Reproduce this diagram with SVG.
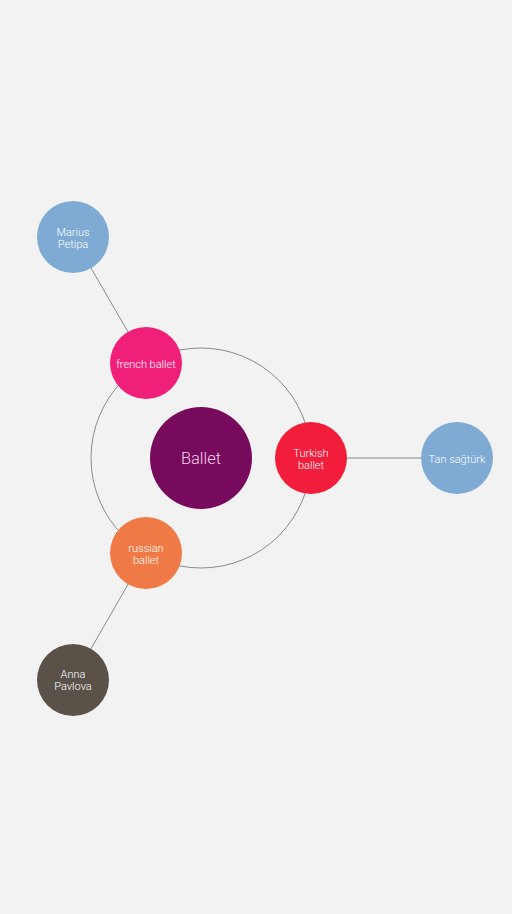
<svg xmlns="http://www.w3.org/2000/svg" width="512" height="914" viewBox="0 0 512 914">
<style>
.t{font-family:Roboto,"Liberation Sans",sans-serif;font-weight:300;fill:#fff;text-anchor:middle;font-size:11px}
.c{stroke:#8a8a8a;stroke-width:1;fill:none}
</style>
<rect width="512" height="914" fill="#f2f2f2"/>
<g id="connectors">
<circle class="c" cx="201" cy="458" r="110"/>
<line class="c" x1="73" y1="237" x2="146" y2="363"/>
<line class="c" x1="311" y1="458" x2="457" y2="458"/>
<line class="c" x1="73" y1="680" x2="146" y2="553"/>
</g>
<g id="ballet"><circle cx="201" cy="458" r="51" fill="#770a5c"/><text class="t" x="201" y="464" style="font-size:16.5px;fill:#f5d0ea">Ballet</text></g>
<g id="french"><circle cx="146" cy="363" r="36" fill="#f01f79"/><text class="t" x="146" y="368">french ballet</text></g>
<g id="turkish"><circle cx="311" cy="458" r="36" fill="#f21c3b"/><text class="t" x="311" y="457">Turkish</text><text class="t" x="311" y="469">ballet</text></g>
<g id="russian"><circle cx="146" cy="553" r="36" fill="#ef7a46"/><text class="t" x="146" y="552">russian</text><text class="t" x="146" y="564">ballet</text></g>
<g id="marius"><circle cx="73" cy="237" r="36" fill="#7eaad3"/><text class="t" x="73" y="236">Marius</text><text class="t" x="73" y="248">Petipa</text></g>
<g id="tan"><circle cx="457" cy="458" r="36" fill="#7eaad3"/><text class="t" x="457" y="463">Tan sağtürk</text></g>
<g id="anna"><circle cx="73" cy="680" r="36" fill="#5a5149"/><text class="t" x="73" y="678">Anna</text><text class="t" x="73" y="690">Pavlova</text></g>
</svg>
